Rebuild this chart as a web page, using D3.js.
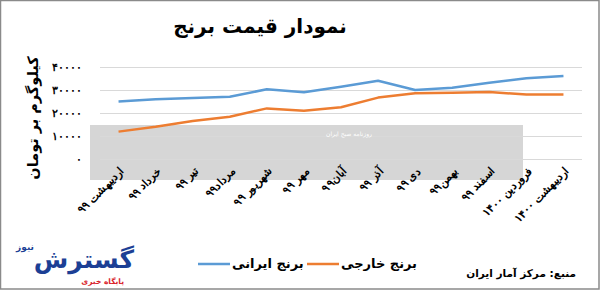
<!DOCTYPE html>
<html>
<head>
<meta charset="utf-8">
<script src="https://cdn.jsdelivr.net/npm/d3@7"></script>
<style>
  body { margin: 0; background: #fff; }
  svg { display: block; font-family: "DejaVu Sans", sans-serif; }
  .grid line { stroke: #d9d9d9; stroke-width: 1; }
  .grid path { display: none; }
  .axis path, .axis line { display: none; }
  .axis text { font-weight: bold; fill: #000; }
</style>
</head>
<body>
<svg id="chart"></svg>
<script>
// months (Persian calendar)
const months = ['اردیبهشت ۹۹', 'خرداد ۹۹', 'تیر ۹۹', 'مرداد۹۹', 'شهریور ۹۹', 'مهر ۹۹', 'آبان۹۹',
  'آذر ۹۹', 'دی ۹۹', 'بهمن۹۹', 'اسفند ۹۹', 'فروردین ۱۴۰۰', 'اردیبهشت ۱۴۰۰'];
// toman per kg
const iranian = [25000, 26000, 26500, 27100, 30300, 29000, 31400, 34000, 30000, 31000, 33200, 35100, 36100];
const foreign = [11900, 14000, 16500, 18400, 22000, 21000, 22500, 26700, 28600, 28800, 29100, 28000, 28000];
const yTicks = [0, 10000, 20000, 30000, 40000];

const seriesNames = ['برنج ایرانی', 'برنج خارجی'];
const colors = ['#5b9bd5', '#ed7d31'];

const W = 600, H = 290;
const svg = d3.select('#chart').attr('width', W).attr('height', H);

const faDigits = (v) => String(v).replace(/\d/g, (d) => '۰۱۲۳۴۵۶۷۸۹'[d]);

// frame
svg.append('rect').attr('x', 0.5).attr('y', 0.5).attr('width', W - 1.5).attr('height', H - 1.5)
  .attr('fill', '#fff').attr('stroke', '#8a8a8a').attr('stroke-width', 1.5);

// title
svg.append('text').attr('x', 260).attr('y', 33).attr('text-anchor', 'middle')
  .attr('font-size', 20).attr('font-weight', 'bold').text('نمودار قیمت برنج');

const margin = {left: 100, right: 18, top: 67, bottom: 131};
const x = d3.scaleBand().domain(months).range([margin.left, W - margin.right]);
const y = d3.scaleLinear().domain([0, 40000]).range([H - margin.bottom, margin.top]);
const cx = (d) => x(d) + x.bandwidth() / 2;

// watermark band (the grey strip behind the plot)
svg.append('rect').attr('x', 90).attr('y', 125).attr('width', 433).attr('height', 55)
  .attr('fill', '#d6d6d6');

// gridlines
svg.append('g').attr('class', 'grid').attr('transform', 'translate(' + margin.left + ',0)')
  .call(d3.axisRight(y).tickValues(yTicks).tickSize(W - margin.right - margin.left).tickFormat(''))
  .selectAll('line').attr('stroke', (d) => d < 15000 ? '#e8e8e8' : '#d9d9d9');

svg.append('text').attr('x', 349).attr('y', 136).attr('text-anchor', 'middle')
  .attr('font-size', 6).attr('fill', '#fff').text('روزنامه صبح ایران');

// y axis
svg.append('g').attr('class', 'axis').attr('transform', 'translate(' + margin.left + ',0)')
  .call(d3.axisLeft(y).tickValues(yTicks).tickSize(0).tickPadding(18).tickFormat(faDigits))
  .selectAll('text').attr('font-size', 10.5);

svg.append('text').attr('font-size', 14.5).attr('font-weight', 'bold').attr('text-anchor', 'middle')
  .attr('transform', 'translate(38,118)rotate(-90)').text('کیلوگرم بر تومان');

// x axis labels, rotated
svg.append('g').attr('class', 'axis').attr('transform', 'translate(0,' + (H - margin.bottom) + ')')
  .call(d3.axisBottom(x).tickSize(0).tickPadding(0))
  .selectAll('text')
  .attr('font-size', 11)
  .attr('text-anchor', 'end')
  .attr('dy', 0).attr('y', 0)
  .attr('transform', 'translate(6,13)rotate(-45)');

// lines
const line = d3.line().x((d, i) => cx(months[i])).y((d) => y(d));
[iranian, foreign].forEach((s, k) => {
  svg.append('path').datum(s).attr('fill', 'none').attr('stroke', colors[k])
    .attr('stroke-width', 2.5).attr('stroke-linejoin', 'round').attr('d', line);
});

// legend
const legend = [{x1: 198, x2: 230, tx: 232}, {x1: 307, x2: 339, tx: 341}];
legend.forEach((l, k) => {
  svg.append('line').attr('x1', l.x1).attr('x2', l.x2).attr('y1', 264).attr('y2', 264)
    .attr('stroke', colors[k]).attr('stroke-width', 2.5);
  svg.append('text').attr('x', l.tx).attr('y', 268).attr('font-size', 13).attr('font-weight', 'bold')
    .text(seriesNames[k]);
});

// source
svg.append('text').attr('x', 576).attr('y', 277).attr('text-anchor', 'end')
  .attr('font-size', 10.5).attr('font-weight', 'bold').text('منبع: مرکز آمار ایران');

// site logo
svg.append('text').attr('x', 134).attr('y', 268).attr('text-anchor', 'end')
  .attr('font-size', 25).attr('font-weight', 'bold').attr('fill', '#1c3f95').text('گسترش');
svg.append('text').attr('x', 34).attr('y', 250).attr('text-anchor', 'end')
  .attr('font-size', 9).attr('font-weight', 'bold').attr('fill', '#1c3f95').text('نیوز');
svg.append('text').attr('x', 124).attr('y', 284).attr('text-anchor', 'end')
  .attr('font-size', 7.5).attr('font-weight', 'bold').attr('fill', '#d8232a').text('پایگاه خبری');
</script>
</body>
</html>
